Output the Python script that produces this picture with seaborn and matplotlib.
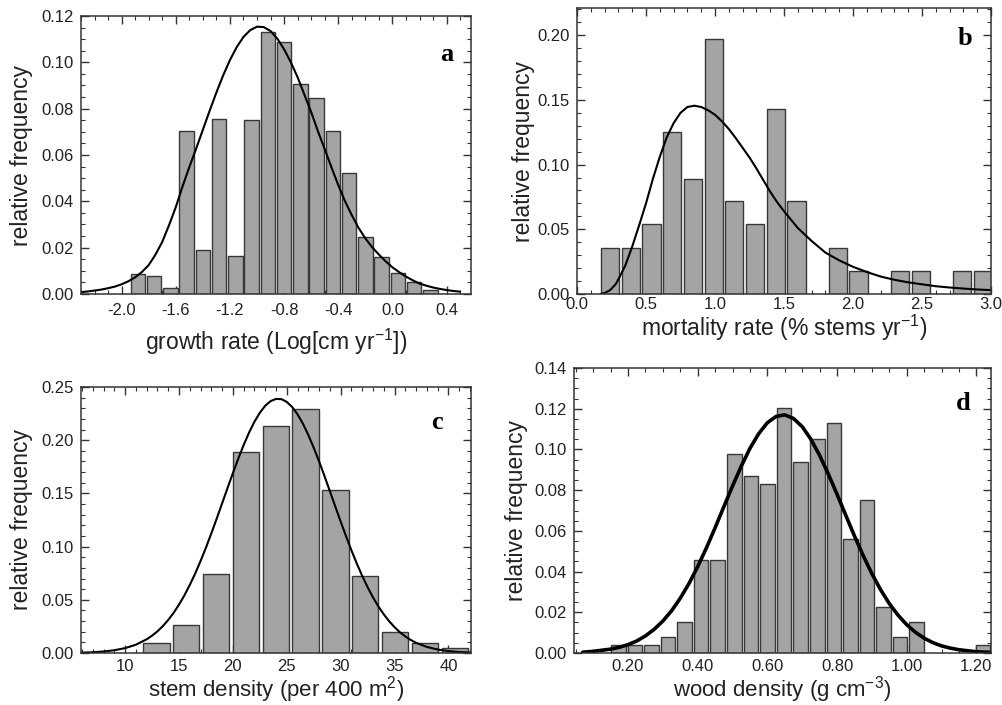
import numpy as np
import pandas as pd
import matplotlib
matplotlib.use("Agg")
import matplotlib.pyplot as plt
import seaborn as sns
from matplotlib.ticker import MultipleLocator, FormatStrFormatter

# ---------------- data ----------------
# (a) growth rate
a_centers = [-1.88, -1.76, -1.64, -1.52, -1.40, -1.28, -1.16, -1.04, -0.92, -0.80,
             -0.68, -0.56, -0.44, -0.32, -0.20, -0.08, 0.04, 0.16, 0.28]
a_freq = [0.0085, 0.0076, 0.0026, 0.0702, 0.0191, 0.0754, 0.0165, 0.0750, 0.1131, 0.1088,
          0.0905, 0.0845, 0.0705, 0.0521, 0.0245, 0.0160, 0.0089, 0.0052, 0.0019]
a_bin = 0.12
a_curve_x = [-2.30, -2.25, -2.20, -2.15, -2.10, -2.05, -2.00, -1.95, -1.90, -1.85,
             -1.80, -1.75, -1.70, -1.65, -1.60, -1.55, -1.50, -1.45, -1.40, -1.35,
             -1.30, -1.25, -1.20, -1.15, -1.10, -1.05, -1.00, -0.95, -0.90, -0.85,
             -0.80, -0.75, -0.70, -0.65, -0.60, -0.55, -0.50, -0.45, -0.40, -0.35,
             -0.30, -0.25, -0.20, -0.15, -0.10, -0.05, 0.00, 0.05, 0.10, 0.15,
             0.20, 0.25, 0.30, 0.35, 0.40, 0.45, 0.50]
a_curve_y = [0.0008, 0.0011, 0.0015, 0.0019, 0.0025, 0.0032, 0.0042, 0.0055, 0.0072, 0.0095,
             0.0125, 0.0170, 0.0225, 0.0297, 0.0375, 0.0465, 0.0548, 0.0627, 0.0709, 0.0791,
             0.0870, 0.0944, 0.1010, 0.1066, 0.1110, 0.1139, 0.1154, 0.1152, 0.1135, 0.1102,
             0.1056, 0.1000, 0.0935, 0.0860, 0.0785, 0.0702, 0.0625, 0.0546, 0.0470, 0.0400,
             0.0340, 0.0285, 0.0240, 0.0202, 0.0170, 0.0141, 0.0115, 0.0094, 0.0075, 0.0059,
             0.0045, 0.0036, 0.0028, 0.0022, 0.0017, 0.0013, 0.0010]

# (b) mortality rate
b_centers = [0.24, 0.39, 0.54, 0.69, 0.84, 0.99, 1.14, 1.29, 1.44, 1.59,
             1.74, 1.89, 2.04, 2.19, 2.34, 2.49, 2.64, 2.79, 2.94]
b_freq = [0.0359, 0.0359, 0.0539, 0.1250, 0.0890, 0.1970, 0.0715, 0.0540, 0.1430, 0.0715,
          0.0, 0.0359, 0.0178, 0.0, 0.0178, 0.0178, 0.0, 0.0178, 0.0178]
b_bin = 0.15
b_curve_x = [0.17, 0.20, 0.24, 0.28, 0.31, 0.35, 0.40, 0.45, 0.50, 0.55, 0.60, 0.65, 0.70,
             0.75, 0.80, 0.85, 0.90, 0.95, 1.00, 1.05, 1.10, 1.15, 1.20, 1.25, 1.30, 1.35,
             1.40, 1.45, 1.50, 1.60, 1.70, 1.80, 1.90, 2.00, 2.10, 2.20, 2.30, 2.40, 2.50,
             2.60, 2.70, 2.80, 2.90, 3.00]
b_curve_y = [0.0, 0.0008, 0.0030, 0.0075, 0.0134, 0.0220, 0.0366, 0.0530, 0.0700, 0.0890,
             0.1060, 0.1210, 0.1320, 0.1400, 0.1445, 0.1455, 0.1445, 0.1420, 0.1385, 0.1335,
             0.1275, 0.1205, 0.1130, 0.1055, 0.0970, 0.0880, 0.0790, 0.0710, 0.0640, 0.0510,
             0.0410, 0.0320, 0.0260, 0.0210, 0.0170, 0.0135, 0.0110, 0.0090, 0.0075, 0.0060,
             0.0050, 0.0042, 0.0035, 0.0030]

# (c) stem density
c_centers = [12.90, 15.67, 18.44, 21.21, 23.98, 26.75, 29.52, 32.29, 35.06, 37.83, 40.60]
c_freq = [0.0090, 0.0266, 0.0738, 0.1890, 0.2138, 0.2290, 0.1534, 0.0719, 0.0197, 0.0090, 0.0044]
c_bin = 2.77
c_curve_x = [6, 7, 8, 9, 10, 11, 12, 12.5, 13, 13.5, 14, 14.5, 15, 15.5, 16, 16.5, 17, 17.5,
             18, 18.5, 19, 19.5, 20, 20.5, 21, 21.5, 22, 22.5, 23, 23.5, 24, 24.5, 25, 25.5,
             26, 26.5, 27, 27.5, 28, 28.5, 29, 29.5, 30, 30.5, 31, 31.5, 32, 32.5, 33, 33.5,
             34, 34.5, 35, 35.5, 36, 36.5, 37, 38, 39, 40, 41, 42]
c_curve_y = [0.0004, 0.0007, 0.0014, 0.0026, 0.0046, 0.0078, 0.0129, 0.0163, 0.0204, 0.0253,
             0.0311, 0.0378, 0.0455, 0.0542, 0.0640, 0.0747, 0.0865, 0.0991, 0.1125, 0.1264,
             0.1407, 0.1550, 0.1691, 0.1827, 0.1955, 0.2072, 0.2174, 0.2258, 0.2324, 0.2367,
             0.2388, 0.2386, 0.2360, 0.2312, 0.2243, 0.2155, 0.2049, 0.1930, 0.1801, 0.1663,
             0.1521, 0.1378, 0.1236, 0.1098, 0.0965, 0.0841, 0.0725, 0.0619, 0.0524, 0.0438,
             0.0364, 0.0299, 0.0243, 0.0195, 0.0156, 0.0123, 0.0096, 0.0057, 0.0033, 0.0018,
             0.0009, 0.0005]

# (d) wood density
d_centers = [0.1720, 0.2196, 0.2672, 0.3148, 0.3624, 0.4100, 0.4576, 0.5052, 0.5528, 0.6004,
             0.6480, 0.6956, 0.7432, 0.7908, 0.8384, 0.8860, 0.9336, 0.9812, 1.0288, 1.0764,
             1.1240, 1.1716, 1.2192]
d_freq = [0.0040, 0.0040, 0.0040, 0.0077, 0.0154, 0.0455, 0.0455, 0.0976, 0.0868, 0.0829,
          0.1205, 0.0940, 0.1053, 0.1130, 0.0562, 0.0752, 0.0226, 0.0077, 0.0151, 0.0,
          0.0, 0.0, 0.0039]
d_bin = 0.0476
d_curve_x = [0.07, 0.10, 0.15, 0.175, 0.20, 0.225, 0.25, 0.275, 0.30, 0.325, 0.35, 0.375,
             0.40, 0.425, 0.45, 0.475, 0.50, 0.525, 0.55, 0.575, 0.60, 0.625, 0.65, 0.675,
             0.70, 0.725, 0.75, 0.775, 0.80, 0.825, 0.85, 0.875, 0.90, 0.925, 0.95, 0.975,
             1.00, 1.025, 1.05, 1.075, 1.10, 1.125, 1.15, 1.20, 1.24]
d_curve_y = [0.0004, 0.0008, 0.0019, 0.0028, 0.0041, 0.0059, 0.0084, 0.0116, 0.0157, 0.0207,
             0.0269, 0.0341, 0.0424, 0.0516, 0.0615, 0.0718, 0.0820, 0.0917, 0.1005, 0.1077,
             0.1131, 0.1162, 0.1170, 0.1152, 0.1112, 0.1050, 0.0971, 0.0879, 0.0780, 0.0677,
             0.0575, 0.0479, 0.0390, 0.0311, 0.0243, 0.0186, 0.0139, 0.0102, 0.0073, 0.0051,
             0.0035, 0.0024, 0.0016, 0.0006, 0.0003]

# ---------------- style ----------------
sns.set_style("white")
plt.rcParams["font.family"] = ["Liberation Sans", "DejaVu Sans"]
plt.rcParams["mathtext.fontset"] = "custom"
plt.rcParams["mathtext.rm"] = "Liberation Sans"
plt.rcParams["mathtext.it"] = "Liberation Sans:italic"
plt.rcParams["mathtext.bf"] = "Liberation Sans:bold"
plt.rcParams["axes.unicode_minus"] = False

BAR_FACE = "#a4a4a4"
BAR_EDGE = "#383838"
TXT = "#222222"

fig = plt.figure(figsize=(10.03, 7.05), dpi=100)
W, H = 1003, 705


def add_axes(left, top, right, bottom):
    return fig.add_axes([left / W, 1 - bottom / H, (right - left) / W, (bottom - top) / H])


panels = [
    dict(ax=add_axes(81, 16, 471, 294), centers=a_centers, freq=a_freq, bw=a_bin,
         cx=a_curve_x, cy=a_curve_y, lw=1.5, xlim=(-2.3, 0.58), ylim=(0, 0.12),
         xmaj=0.4, xmin=0.1, ymaj=0.02, ymin=0.005, xfmt="%.1f", yfmt="%.2f",
         xlabel="growth rate (Log[cm yr$^{-1}$])", letter="a", lpos=(0.938, 0.86),
         xpad=6.5, ylpad=6, xlpad=6, xlsize=16.5),
    dict(ax=add_axes(577, 8, 991, 294), centers=b_centers, freq=b_freq, bw=b_bin,
         cx=b_curve_x, cy=b_curve_y, lw=1.5, xlim=(0, 3.0), ylim=(0, 0.221),
         xmaj=0.5, xmin=0.1, ymaj=0.05, ymin=0.01, xfmt="%.1f", yfmt="%.2f",
         xlabel="mortality rate (% stems yr$^{-1}$)", letter="b", lpos=(0.937, 0.895),
         xpad=2.2, ylpad=1.5, xlpad=0.5, xlsize=16.5),
    dict(ax=add_axes(81, 387, 471, 653), centers=c_centers, freq=c_freq, bw=c_bin,
         cx=c_curve_x, cy=c_curve_y, lw=1.5, xlim=(5.9, 42.1), ylim=(0, 0.25),
         xmaj=5, xmin=1, ymaj=0.05, ymin=0.01, xfmt="%d", yfmt="%.2f",
         xlabel="stem density (per 400 m$^{2}$)", letter="c", lpos=(0.913, 0.865),
         xpad=4, ylpad=6, xlpad=0.2, xlsize=16),
    dict(ax=add_axes(574, 368, 991, 653), centers=d_centers, freq=d_freq, bw=d_bin,
         cx=d_curve_x, cy=d_curve_y, lw=2.6, xlim=(0.045, 1.242), ylim=(0, 0.14),
         xmaj=0.2, xmin=0.05, ymaj=0.02, ymin=0.005, xfmt="%.2f", yfmt="%.2f",
         xlabel="wood density (g cm$^{-3}$)", letter="d", lpos=(0.933, 0.877),
         xpad=4, ylpad=4.5, xlpad=0.2, xlsize=16),
]

for p in panels:
    ax = p["ax"]
    centers = np.asarray(p["centers"], dtype=float)
    bw = p["bw"]
    lo = centers[0] - bw / 2
    hi = centers[-1] + bw / 2
    df = pd.DataFrame({"x": centers, "w": p["freq"]})
    sns.histplot(data=df, x="x", weights="w", binwidth=bw, binrange=(lo, hi),
                 shrink=0.88, ax=ax, color=BAR_FACE, edgecolor=BAR_EDGE,
                 linewidth=1.0, alpha=1.0)
    for patch in list(ax.patches):
        if patch.get_height() <= 0:
            patch.remove()
    sns.lineplot(x=p["cx"], y=p["cy"], ax=ax, color="black", linewidth=p["lw"],
                 estimator=None, sort=False)
    ax.set_xlim(*p["xlim"])
    ax.set_ylim(*p["ylim"])
    ax.xaxis.set_major_locator(MultipleLocator(p["xmaj"]))
    ax.xaxis.set_minor_locator(MultipleLocator(p["xmin"]))
    ax.yaxis.set_major_locator(MultipleLocator(p["ymaj"]))
    ax.yaxis.set_minor_locator(MultipleLocator(p["ymin"]))
    ax.xaxis.set_major_formatter(FormatStrFormatter(p["xfmt"]))
    ax.yaxis.set_major_formatter(FormatStrFormatter(p["yfmt"]))
    ax.tick_params(which="both", direction="in", top=True, right=True,
                   bottom=True, left=True,
                   color="#333333", labelcolor=TXT, labelsize=12)
    ax.tick_params(which="major", length=5.5, width=1.0)
    ax.tick_params(which="minor", length=3, width=0.8)
    ax.tick_params(axis="x", which="major", pad=p["xpad"])
    ax.tick_params(axis="y", which="major", pad=5.5)
    for s in ax.spines.values():
        s.set_visible(True)
        s.set_color("#333333")
        s.set_linewidth(1.1)
    ax.set_xlabel(p["xlabel"], fontsize=p["xlsize"], color=TXT, labelpad=p["xlpad"])
    ax.set_ylabel("relative frequency", fontsize=16.5, color=TXT, labelpad=p["ylpad"])
    ax.text(p["lpos"][0], p["lpos"][1], p["letter"], transform=ax.transAxes,
            ha="center", va="center", fontsize=19, fontweight="bold",
            family=["Liberation Serif", "DejaVu Serif"], color="black")
    ax.set_facecolor("white")

fig.savefig("out.png", dpi=100, facecolor="white")
